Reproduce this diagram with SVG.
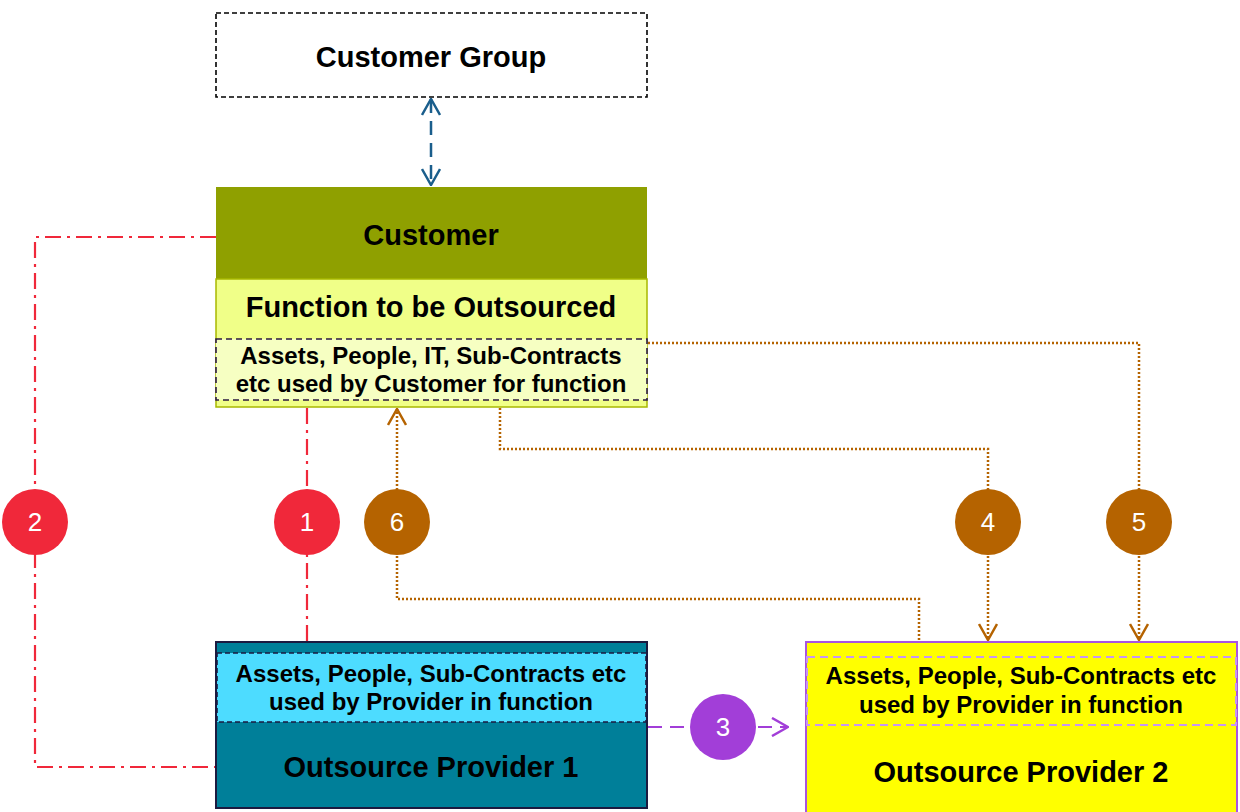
<svg xmlns="http://www.w3.org/2000/svg" width="1240" height="812" viewBox="0 0 1240 812">
<style>
.big{font-family:"Liberation Sans",Arial,sans-serif;font-weight:bold;font-size:29px;fill:#000;text-anchor:middle}
.sm{font-family:"Liberation Sans",Arial,sans-serif;font-weight:bold;font-size:24px;fill:#000;text-anchor:middle}
.num{font-family:"Liberation Sans",Arial,sans-serif;font-size:26px;fill:#fff;text-anchor:middle}
.red{fill:none;stroke:#F0283A;stroke-width:2.2;stroke-dasharray:16 6 3 6}
.brown{fill:none;stroke:#B56300;stroke-width:2.5;stroke-dasharray:2 2}
</style>
<defs>
<marker id="aBlue" viewBox="0 0 18 20" refX="17" refY="10" markerWidth="18" markerHeight="20" markerUnits="userSpaceOnUse" orient="auto-start-reverse"><path d="M1,1 L17,10 L1,19" fill="none" stroke="#1A5E8C" stroke-width="2.5"/></marker>
<marker id="aBrown" viewBox="0 0 18 20" refX="17" refY="10" markerWidth="18" markerHeight="20" markerUnits="userSpaceOnUse" orient="auto"><path d="M1,1 L17,10 L1,19" fill="none" stroke="#B56300" stroke-width="2.5"/></marker>
<marker id="aPurple" viewBox="0 0 18 20" refX="17" refY="10" markerWidth="18" markerHeight="20" markerUnits="userSpaceOnUse" orient="auto"><path d="M1,1 L17,10 L1,19" fill="none" stroke="#A23ED8" stroke-width="2.5"/></marker>
</defs>
<rect width="1240" height="812" fill="#fff"/>

<g id="connectors">
<path d="M431,99 V185" fill="none" stroke="#1A5E8C" stroke-width="2.5" stroke-dasharray="14 8" marker-start="url(#aBlue)" marker-end="url(#aBlue)"/>
<path class="red" d="M216,237 H35 V767 H216"/>
<path class="red" d="M307,408 V641"/>
<path class="brown" d="M919,648 V599 H397 V409" marker-end="url(#aBrown)"/>
<path class="brown" d="M500,408 V449 H988 V640" marker-end="url(#aBrown)"/>
<path class="brown" d="M648,343 H1139 V640" marker-end="url(#aBrown)"/>
<path d="M648,727 H788" fill="none" stroke="#A23ED8" stroke-width="2.2" stroke-dasharray="14 8" marker-end="url(#aPurple)"/>
</g>

<g id="customer-group">
<rect x="216" y="13" width="431" height="84" fill="#fff" stroke="#000" stroke-width="1.6" stroke-dasharray="5 3"/>
<text class="big" x="431" y="67">Customer Group</text>
</g>

<g id="customer">
<rect x="216" y="187" width="431" height="92" fill="#8FA000"/>
<rect x="216" y="279" width="431" height="128" fill="#F0FF88" stroke="#A8B800" stroke-width="1.5"/>
<rect x="216" y="339" width="431" height="61" fill="#F6FFC2" stroke="#2B1A40" stroke-width="1.6" stroke-dasharray="6 4"/>
<text class="big" x="431" y="245">Customer</text>
<text class="big" x="431" y="317">Function to be Outsourced</text>
<text class="sm" x="431" y="364">Assets, People, IT, Sub-Contracts</text>
<text class="sm" x="431" y="392">etc used by Customer for function</text>
</g>

<g id="provider1">
<rect x="216" y="642" width="431" height="166" fill="#007F99" stroke="#1C1A40" stroke-width="2"/>
<rect x="217" y="653" width="429" height="69" fill="#4DDCFF" stroke="#1C1A40" stroke-width="1.6" stroke-dasharray="5 3"/>
<text class="sm" x="431" y="682">Assets, People, Sub-Contracts etc</text>
<text class="sm" x="431" y="710">used by Provider in function</text>
<text class="big" x="431" y="777">Outsource Provider 1</text>
</g>

<g id="provider2">
<rect x="806" y="642" width="431" height="172" fill="#FFFF00" stroke="#A855E0" stroke-width="2"/>
<rect x="807" y="657" width="429" height="68" fill="#FFFF00" stroke="#C796F2" stroke-width="2" stroke-dasharray="8 5"/>
<text class="sm" x="1021" y="684">Assets, People, Sub-Contracts etc</text>
<text class="sm" x="1021" y="713">used by Provider in function</text>
<text class="big" x="1021" y="782">Outsource Provider 2</text>
</g>

<g id="badge-1"><circle cx="307" cy="522" r="33" fill="#F0283A"/><text class="num" x="307" y="531">1</text></g>
<g id="badge-2"><circle cx="35" cy="522" r="33" fill="#F0283A"/><text class="num" x="35" y="531">2</text></g>
<g id="badge-3"><circle cx="723" cy="727" r="33" fill="#A23ED8"/><text class="num" x="723" y="736">3</text></g>
<g id="badge-4"><circle cx="988" cy="522" r="33" fill="#B56300"/><text class="num" x="988" y="531">4</text></g>
<g id="badge-5"><circle cx="1139" cy="522" r="33" fill="#B56300"/><text class="num" x="1139" y="531">5</text></g>
<g id="badge-6"><circle cx="397" cy="522" r="33" fill="#B56300"/><text class="num" x="397" y="531">6</text></g>
</svg>
